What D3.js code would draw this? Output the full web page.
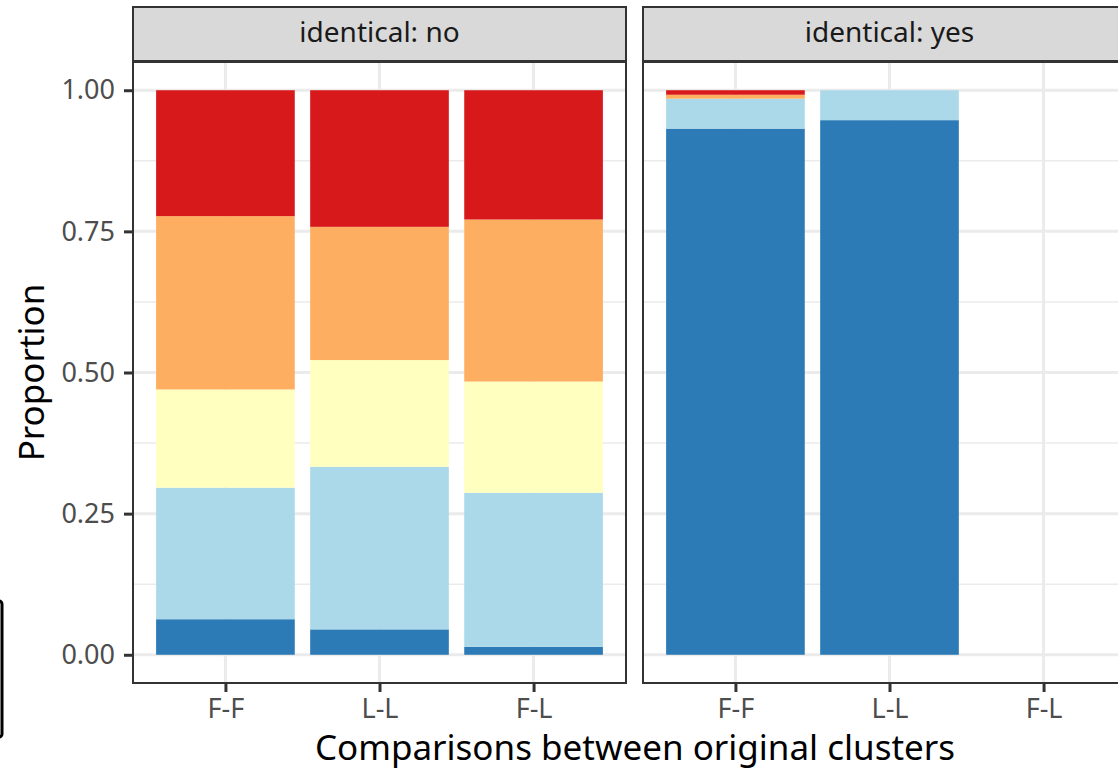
<!DOCTYPE html>
<html>
<head>
<meta charset="utf-8">
<script src="https://cdn.jsdelivr.net/npm/d3@7"></script>
<style>
  body { margin: 0; background: #fff; }
  svg { display: block; font-family: "Noto Sans", sans-serif; }
</style>
</head>
<body>
<script>
// comparisons on the x axis, one panel per "identical" value
const categories = ["F-F", "L-L", "F-L"];
const facets = ["no", "yes"];
const levels = ["1", "2", "3", "4", "5"];   // stacked bottom -> top
const colours = ["#2c7bb6", "#abd9e9", "#ffffbf", "#fdae61", "#d7191c"];
const yTicks = [0, 0.25, 0.5, 0.75, 1];
const yTickLabels = ["0.00", "0.25", "0.50", "0.75", "1.00"];

// proportion of each level, per category (F-F, L-L, F-L)
const level1No  = [0.063, 0.045, 0.014];
const level2No  = [0.233, 0.288, 0.273];
const level3No  = [0.174, 0.189, 0.197];
const level4No  = [0.307, 0.236, 0.287];
const level5No  = [0.223, 0.242, 0.229];
const level1Yes = [0.932, 0.947, 0];
const level2Yes = [0.053, 0.053, 0];
const level3Yes = [0.000, 0.000, 0];
const level4Yes = [0.007, 0.000, 0];
const level5Yes = [0.008, 0.000, 0];

const byFacet = {
  no:  [level1No, level2No, level3No, level4No, level5No],
  yes: [level1Yes, level2Yes, level3Yes, level4Yes, level5Yes]
};

const width = 1118, height = 769;
const panelW = 493;
const panelLeft = [133, 643];
const stripTop = 7, stripBottom = 61;
const panelTop = 62, panelBottom = 683;

const svg = d3.select("body").append("svg")
  .attr("width", width).attr("height", height);

const x = d3.scalePoint().domain(categories).range([0, panelW]).padding(0.6);
const barW = x.step() * 0.9;
const y = d3.scaleLinear().domain([-0.05, 1.05]).range([panelBottom, panelTop]);

facets.forEach((f, fi) => {
  const g = svg.append("g").attr("transform", `translate(${panelLeft[fi]},0)`);

  // minor grid
  g.selectAll(".minor").data([0.125, 0.375, 0.625, 0.875]).enter().append("line")
    .attr("x1", 0).attr("x2", panelW)
    .attr("y1", d => y(d)).attr("y2", d => y(d))
    .attr("stroke", "#ebebeb").attr("stroke-width", 1.5);
  // major grid
  g.selectAll(".majorY").data(yTicks).enter().append("line")
    .attr("x1", 0).attr("x2", panelW)
    .attr("y1", d => y(d)).attr("y2", d => y(d))
    .attr("stroke", "#ebebeb").attr("stroke-width", 3);
  g.selectAll(".majorX").data(categories).enter().append("line")
    .attr("x1", d => x(d)).attr("x2", d => x(d))
    .attr("y1", panelTop).attr("y2", panelBottom)
    .attr("stroke", "#ebebeb").attr("stroke-width", 3);

  // stacked bars
  const rows = categories.map((c, ci) => {
    const r = { cat: c };
    levels.forEach((l, li) => { r[l] = byFacet[f][li][ci]; });
    return r;
  });
  const stacked = d3.stack().keys(levels)(rows);
  g.selectAll(".layer").data(stacked).enter().append("g")
    .attr("fill", (d, i) => colours[i])
    .selectAll("rect").data(d => d.filter(s => s[1] - s[0] > 0)).enter().append("rect")
    .attr("x", d => x(d.data.cat) - barW / 2)
    .attr("width", barW)
    .attr("y", d => y(d[1]))
    .attr("height", d => y(d[0]) - y(d[1]));

  // panel border
  g.append("rect")
    .attr("x", 0).attr("y", panelTop)
    .attr("width", panelW).attr("height", panelBottom - panelTop)
    .attr("fill", "none").attr("stroke", "#333").attr("stroke-width", 2);

  // strip
  g.append("rect")
    .attr("x", 0).attr("y", stripTop)
    .attr("width", panelW).attr("height", stripBottom - stripTop)
    .attr("fill", "#d9d9d9").attr("stroke", "#333").attr("stroke-width", 2);
  g.append("text")
    .attr("x", panelW / 2).attr("y", 42)
    .attr("text-anchor", "middle")
    .attr("font-size", 28).attr("fill", "#1a1a1a")
    .text("identical: " + f);

  // x axis
  const xAxis = d3.axisBottom(x).tickSize(9).tickPadding(7);
  const ax = g.append("g").attr("transform", `translate(0,${panelBottom})`).call(xAxis);
  ax.select(".domain").remove();
  ax.selectAll(".tick line").attr("stroke", "#333").attr("stroke-width", 3);
  ax.selectAll(".tick text").attr("font-size", 27).attr("fill", "#4d4d4d")
    .attr("font-family", "Noto Sans");
});

// y axis (left panel only)
const yAxis = d3.axisLeft(y).tickValues(yTicks)
  .tickFormat((d, i) => yTickLabels[i]).tickSize(9).tickPadding(9);
const ay = svg.append("g").attr("transform", `translate(${panelLeft[0]},0)`).call(yAxis);
ay.select(".domain").remove();
ay.selectAll(".tick line").attr("stroke", "#333").attr("stroke-width", 3);
ay.selectAll(".tick text").attr("font-size", 27).attr("fill", "#4d4d4d")
  .attr("font-family", "Noto Sans");

// titles
svg.append("text")
  .attr("x", 635).attr("y", 760)
  .attr("text-anchor", "middle").attr("font-size", 35).attr("fill", "#000")
  .text("Comparisons between original clusters");
svg.append("text")
  .attr("transform", `translate(44,${(panelTop + panelBottom) / 2}) rotate(-90)`)
  .attr("text-anchor", "middle").attr("font-size", 35).attr("fill", "#000")
  .text("Proportion");

// edge of a box cut off at the left border
svg.append("rect")
  .attr("x", -10).attr("y", 601).attr("width", 12).attr("height", 136)
  .attr("rx", 3).attr("fill", "none").attr("stroke", "#000").attr("stroke-width", 3);
</script>
</body>
</html>
